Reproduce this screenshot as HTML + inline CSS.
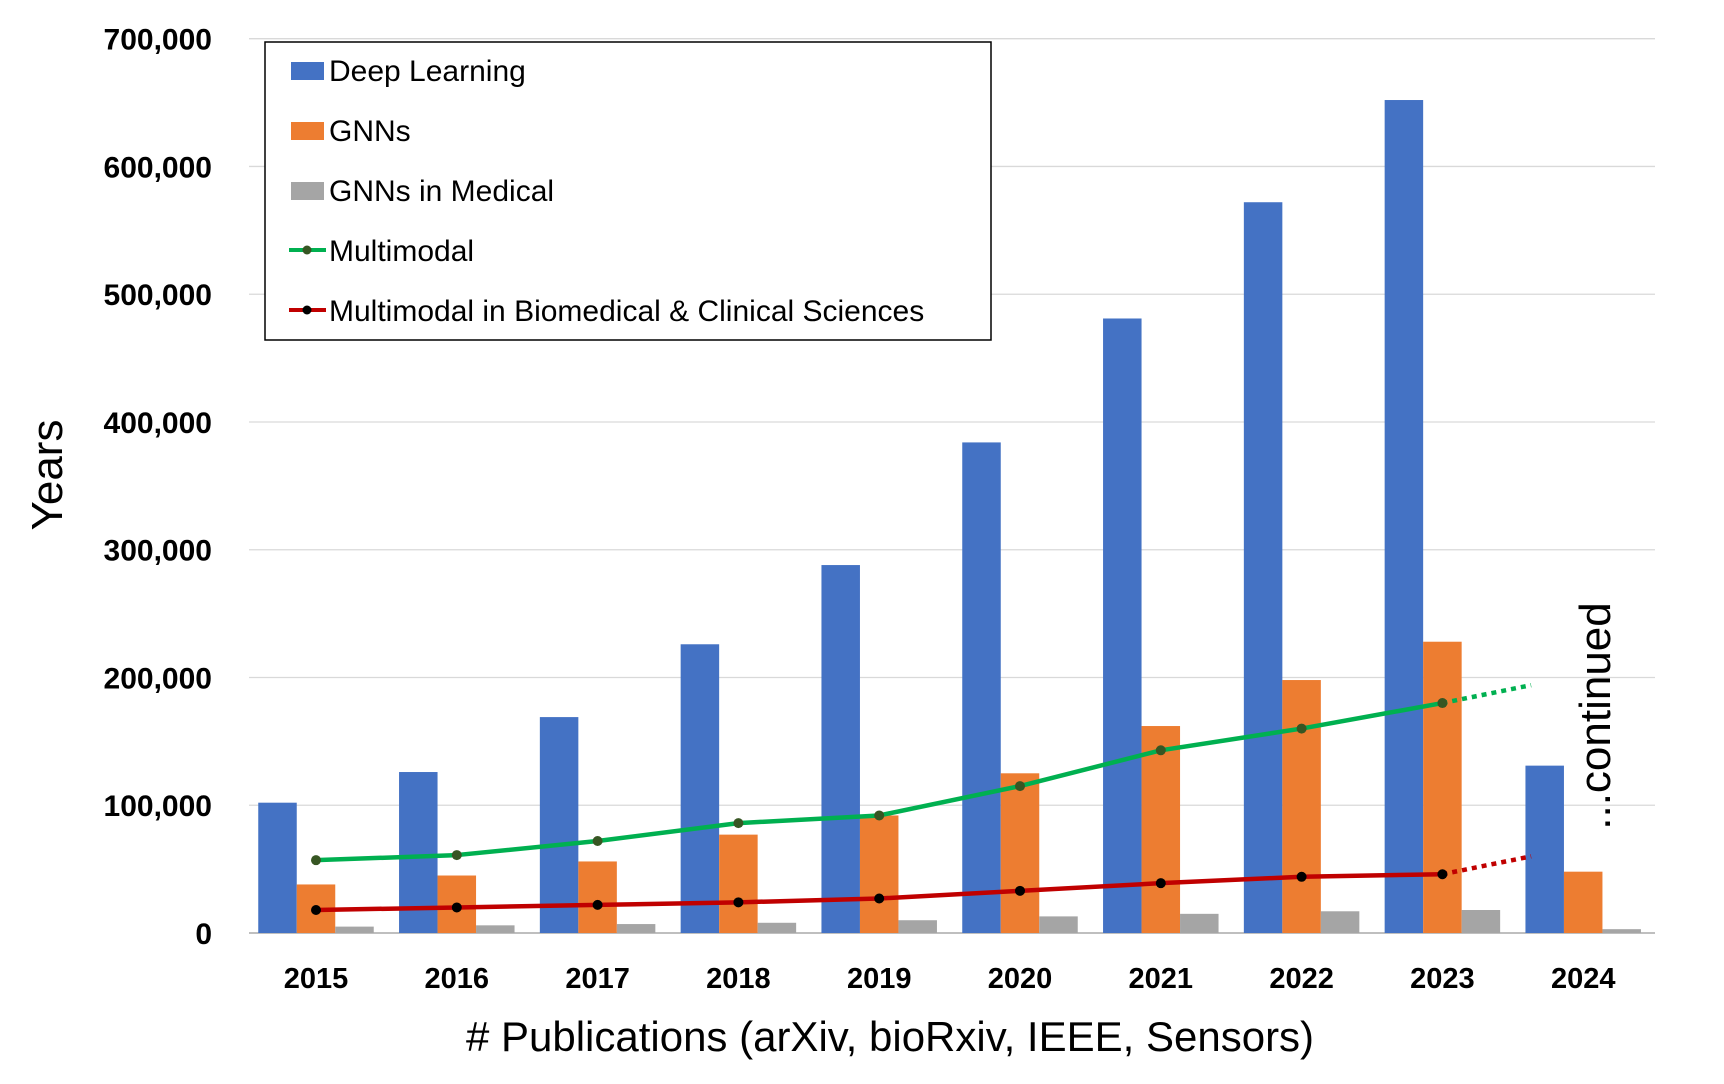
<!DOCTYPE html>
<html><head><meta charset="utf-8"><style>
body{margin:0;background:#fff}
svg{display:block;font-family:"Liberation Sans",sans-serif}
</style></head><body>
<svg id="chart" width="1724" height="1084" viewBox="0 0 1724 1084">
<g id="grid"></g><g id="bars"></g><g id="lines"></g><g id="labels"></g>
<text x="62" y="475" font-size="44" text-anchor="middle" transform="rotate(-90 62 475)">Years</text>
<text x="890" y="1051" font-size="42" text-anchor="middle"># Publications (arXiv, bioRxiv, IEEE, Sensors)</text>
<text x="1610" y="716" font-size="44" text-anchor="middle" transform="rotate(-90 1610 716)">...continued</text>
<g>
<rect x="265" y="42" width="726" height="298" fill="#fff" stroke="#000" stroke-width="1.5"/>
<rect x="291" y="62" width="33" height="18" fill="#4472C4"/>
<text x="329" y="81" font-size="30">Deep Learning</text>
<rect x="291" y="122" width="33" height="18" fill="#ED7D31"/>
<text x="329" y="141" font-size="30">GNNs</text>
<rect x="291" y="182" width="33" height="18" fill="#A5A5A5"/>
<text x="329" y="201" font-size="30">GNNs in Medical</text>
<line x1="289" y1="250" x2="326" y2="250" stroke="#00B050" stroke-width="4"/><circle cx="307" cy="250" r="4.5" fill="#375623"/>
<text x="329" y="261" font-size="30">Multimodal</text>
<line x1="289" y1="310" x2="326" y2="310" stroke="#C00000" stroke-width="4"/><circle cx="307" cy="310" r="4.5" fill="#000"/>
<text x="329" y="321" font-size="30">Multimodal in Biomedical &amp; Clinical Sciences</text>
</g>
</svg>
<script>
const categories=["2015","2016","2017","2018","2019","2020","2021","2022","2023","2024"];
const deepLearning=[102000,126000,169000,226000,288000,384000,481000,572000,652000,131000];
const gnns=[38000,45000,56000,77000,92000,125000,162000,198000,228000,48000];
const gnnsMedical=[5000,6000,7000,8000,10000,13000,15000,17000,18000,3000];
const multimodal=[57000,61000,72000,86000,92000,115000,143000,160000,180000];
const multimodalBio=[18000,20000,22000,24000,27000,33000,39000,44000,46000];
const multimodalProjection=[180000,194000];
const bioProjection=[46000,60000];
const projectionIndex=[8,8.63];
const yTicks=[0,100000,200000,300000,400000,500000,600000,700000];
const NS="http://www.w3.org/2000/svg";
const y0=933,y700=38.7,left=249,right=1655,x0=316,step=140.8,bw=38.5;
const yS=v=>y0-(v/700000)*(y0-y700);
const xS=i=>x0+i*step;
function mk(tag,attrs,parent){const e=document.createElementNS(NS,tag);for(const k in attrs)e.setAttribute(k,attrs[k]);document.getElementById(parent).appendChild(e);return e;}
yTicks.forEach(t=>{
 const l=mk('line',{x1:left,x2:right,y1:yS(t),y2:yS(t),stroke:t===0?'#bfbfbf':'#d9d9d9','stroke-width':t===0?2:1.3},'grid');
 
 
 const tx=mk('text',{x:212,y:yS(t)+11,'font-size':30,'font-weight':'bold','text-anchor':'end'},'labels');
 tx.textContent=t.toLocaleString('en-US');
 
 
});
categories.forEach((c,i)=>{
 const tx=mk('text',{x:xS(i),y:988,'font-size':29,'font-weight':'bold','text-anchor':'middle'},'labels');
 tx.textContent=c;
 
 
 [[deepLearning,'#4472C4',-1.5,'bar-deep-learning'],[gnns,'#ED7D31',-0.5,'bar-gnns'],[gnnsMedical,'#A5A5A5',0.5,'bar-gnns-medical']].forEach(([arr,col,off,nm])=>{
  const r=mk('rect',{x:xS(i)+off*bw,y:yS(arr[i]),width:bw,height:y0-yS(arr[i]),fill:col},'bars');
  
  
 });
});
function series(arr,col,mc,nm){
 const p=mk('polyline',{points:arr.map((v,i)=>xS(i)+','+yS(v)).join(' '),fill:'none',stroke:col,'stroke-width':4.5,'stroke-linejoin':'round'},'lines');
 
 
 arr.forEach((v,i)=>{const c=mk('circle',{cx:xS(i),cy:yS(v),r:5,fill:mc},'lines');
  
  });
}
function proj(arr,col,nm){
 const l=mk('line',{x1:xS(projectionIndex[0]),y1:yS(arr[0]),x2:xS(projectionIndex[1]),y2:yS(arr[1]),stroke:col,'stroke-width':4.5,'stroke-dasharray':'5 5'},'lines');
 
 
}
proj(multimodalProjection,'#00B050','multimodal-projection');
proj(bioProjection,'#C00000','biomedical-projection');
series(multimodal,'#00B050','#375623','multimodal');
series(multimodalBio,'#C00000','#000','multimodal-biomedical');
</script>
</body></html>
